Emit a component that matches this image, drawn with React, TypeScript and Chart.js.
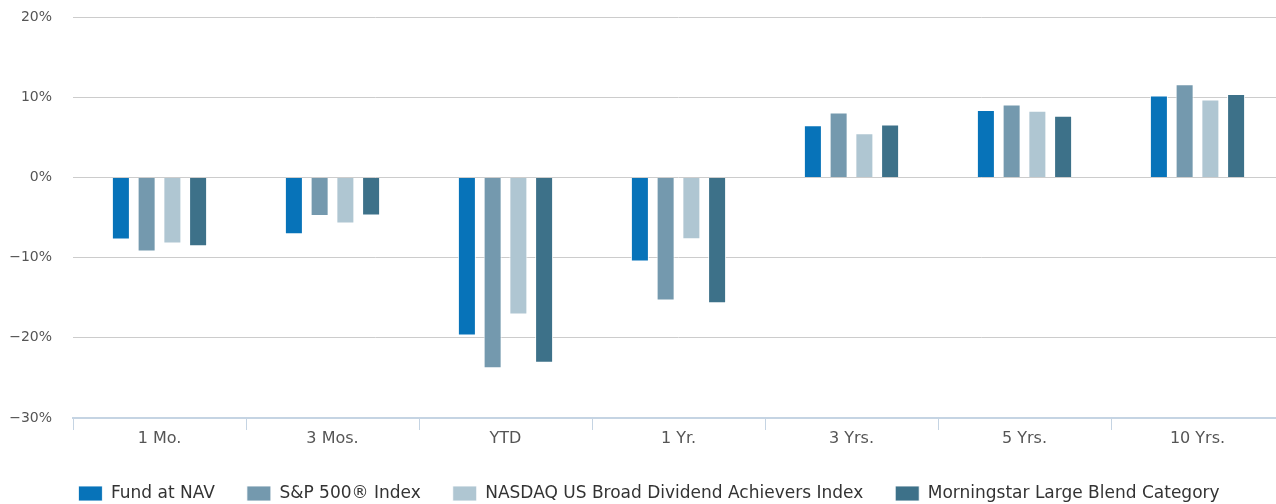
import React, { useEffect, useRef } from "react";
import { Chart, registerables } from "chart.js";

Chart.register(...registerables);

const categories = ["1 Mo.", "3 Mos.", "YTD", "1 Yr.", "3 Yrs.", "5 Yrs.", "10 Yrs."];
const fundAtNav = [-7.75, -7.1, -19.7, -10.5, 6.5, 8.4, 10.2];
const sp500 = [-9.25, -4.8, -23.8, -15.35, 8.1, 9.1, 11.6];
const nasdaqDividend = [-8.25, -5.75, -17.1, -7.7, 5.5, 8.3, 9.7];
const morningstarBlend = [-8.6, -4.75, -23.1, -15.7, 6.6, 7.7, 10.4];
const yTicks = [-30, -20, -10, 0, 10, 20];

const seriesNames = [
  "Fund at NAV",
  "S&P 500® Index",
  "NASDAQ US Broad Dividend Achievers Index",
  "Morningstar Large Blend Category",
];
const seriesColors = ["#0773b9", "#7499ae", "#afc6d2", "#3d7189"];

const W = 1302;
const H = 512;

const legendShift = {
  id: "legendShift",
  afterLayout(chart: any) {
    const lg = chart.legend;
    if (lg) {
      lg.left += 7;
      lg.right += 7;
    }
  },
};

export default function App() {
  const ref = useRef<HTMLCanvasElement | null>(null);

  useEffect(() => {
    const canvas = ref.current;
    if (!canvas) return;
    const seriesData = [fundAtNav, sp500, nasdaqDividend, morningstarBlend];
    const chart = new Chart(canvas, {
      type: "bar",
      data: {
        labels: categories,
        datasets: seriesData.map((d, i) => ({
          label: seriesNames[i],
          data: d,
          backgroundColor: seriesColors[i],
          borderColor: "rgba(255,255,255,0.85)",
          borderWidth: 1,
          categoryPercentage: 0.595,
          barPercentage: 0.7,
        })),
      },
      plugins: [legendShift],
      options: {
        responsive: false,
        animation: false,
        devicePixelRatio: 1,
        layout: { padding: { top: 17, right: 18, left: 0, bottom: 0 } },
        plugins: {
          tooltip: { enabled: false },
          legend: {
            position: "bottom",
            align: "center",
            labels: {
              boxWidth: 24,
              boxHeight: 15,
              padding: 32,
              color: "#333333",
              font: { family: "'DejaVu Sans', sans-serif", size: 17 },
            },
          },
        },
        scales: {
          x: {
            offset: true,
            afterFit: (axis: any) => {
              axis.height = 35;
            },
            grid: {
              display: true,
              offset: true,
              drawOnChartArea: false,
              drawTicks: true,
              tickLength: 12,
              tickColor: "#c5d4e3",
              lineWidth: 1,
            },
            border: { display: true, color: "#c5d4e3", width: 2 },
            ticks: {
              color: "#555555",
              padding: -1,
              font: { family: "'DejaVu Sans', sans-serif", size: 16 },
            },
          },
          y: {
            min: -30,
            max: 20,
            afterBuildTicks: (axis: any) => {
              axis.ticks = yTicks.map((v) => ({ value: v }));
            },
            afterFit: (axis: any) => {
              axis.width = 73;
            },
            grid: { color: "#cccccc", lineWidth: 1, drawTicks: true, tickLength: 18, tickColor: "rgba(0,0,0,0)" },
            border: { display: false },
            ticks: {
              color: "#555555",
              padding: 3,
              font: { family: "'DejaVu Sans', sans-serif", size: 14 },
              callback: (v: any) => (Number(v) < 0 ? "\u2212" + Math.abs(Number(v)) : String(v)) + "%",
            },
          },
        },
      },
    });
    return () => chart.destroy();
  }, []);

  return (
    <div style={{ position: "fixed", left: 0, top: 0, width: 1276, height: 504, overflow: "hidden", background: "#fff" }}>
      <canvas ref={ref} width={W} height={H} style={{ display: "block", width: W, height: H }} />
    </div>
  );
}
